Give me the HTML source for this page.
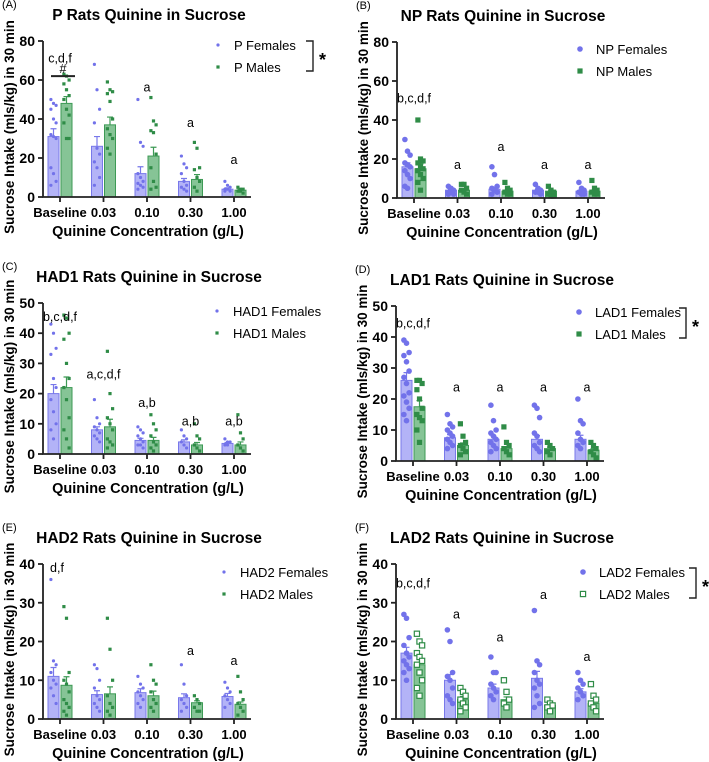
<!DOCTYPE html>
<html><head><meta charset="utf-8">
<style>
html,body{margin:0;padding:0;background:#fff;}
svg{display:block;font-family:"Liberation Sans",Arial,sans-serif;}
</style></head>
<body>
<svg id="fig" width="709" height="762" viewBox="0 0 709 762" xmlns="http://www.w3.org/2000/svg"></svg>
<script>
const categories = ["Baseline","0.03","0.10","0.30","1.00"];

// Panel A
const aFemMean=[31,26,12,8,4], aFemSem=[4,5,3.5,1.5,0.7];
const aMalMean=[48,37,21,9,3.5], aMalSem=[3.5,4,4.5,2.5,0.5];
const aFemPts=[[50,48,47,45,40,38,32,31,30,15,12,8,6],[68,55,45,38,25,22,18,15,10,6],[50,28,26,12,10,8,7,6,5,4],[21,17,15,12,8,6,5,4,3],[8,6,5,4,4,3,3]];
const aMalPts=[[63,62,60,58,55,52,50,45,42,38,30,30],[59,55,54,53,49,40,35,32,30,25,22],[51,39,37,34,33,22,15,8,5,4],[28,25,15,14,10,8,5,3],[5,4,4,3,3,2]];
const aAnnot=["c,d,f","","a","a","a"], aAnnotVal=[69,0,54,36,17];
const aTicks=[0,20,40,60,80];

// Panel B
const bFemMean=[16,4,4.5,4,3.5], bFemSem=[2,0.5,1,0.5,0.5];
const bMalMean=[15,4,3.5,3.5,3.5], bMalSem=[2.5,0.7,0.6,0.5,0.6];
const bFemPts=[[30,24,22,18,17,16,14,12,10,6,5],[6,5,4,3,3,2,2],[16,12,6,5,4,3,2],[7,5,4,3,3,2],[8,5,4,3,2,2]];
const bMalPts=[[40,20,19,18,16,15,14,12,10,8,4],[7,7,5,4,3,2],[8,5,4,3,2,2],[6,4,3,2,1,1],[9,5,4,3,2,2]];
const bAnnot=["b,c,d,f","a","a","a","a"], bAnnotVal=[49,15,24,15,15];
const bTicks=[0,20,40,60,80];

// Panel C
const cFemMean=[20,8,4.5,4,3.5], cFemSem=[3,1,0.7,0.7,0.3];
const cMalMean=[22,9,4.5,3,3], cMalSem=[3.5,2.5,1,0.8,1];
const cFemPts=[[43,40,35,33,25,22,18,14,10,8,5],[18,12,10,9,8,7,6,5,4],[9,8,7,6,5,4,3,3,2],[8,6,5,4,3,2],[5,4,4,3,3]];
const cMalPts=[[46,45,40,38,30,25,22,18,12,8,5,2],[34,20,15,12,10,8,5,4,3,2],[13,10,8,6,4,3,2,1],[10,6,5,3,2,1],[13,7,5,3,2,1]];
const cAnnot=["b,c,d,f","a,c,d,f","a,b","a,b","a,b"], cAnnotVal=[44,25,15.5,9.5,9.5];
const cTicks=[0,10,20,30,40,50];

// Panel D
const dFemMean=[26,7.5,7,7,7], dFemSem=[2.5,1,1,1.2,1.3];
const dMalMean=[17.5,5,4,4,3.5], dMalSem=[2,0.8,0.5,0.5,0.5];
const dFemPts=[[39,38,35,34,32,29,27,25,22,21,19,17,15,13],[15,12,11,10,9,8,7,6,5,4],[18,13,10,9,8,7,6,5,4,3],[18,17,14,9,8,6,5,4,3],[20,13,12,9,7,6,5,4]];
const dMalPts=[[26,26,25,23,20,17,15,14,13,10,6],[12,8,6,5,4,3,2],[11,6,5,4,3,2],[6,5,4,3,2],[6,5,4,3,2,1]];
const dAnnot=["b,c,d,f","a","a","a","a"], dAnnotVal=[43,22.5,22.5,22.5,22.5];
const dTicks=[0,10,20,30,40,50];

// Panel E
const eFemMean=[11,6.3,6.8,5.5,5.8], eFemSem=[2.3,1,1,1,0.8];
const eMalMean=[8.7,6.5,6,4.2,3.8], eMalSem=[2.2,1.8,1.2,0.5,0.6];
const eFemPts=[[36,15,14,12,10,9,8,6,4],[14,13,10,8,6,5,4,3,2],[11,9,8,7,6,5,4,3],[14,9,6,5,4,3,2],[9.5,8,7,6,5,4,3]];
const eMalPts=[[29,26,12,10,9,7,5,4,3,2,1],[26,18,10,6,4,3,2,1],[14,10,9,7,5,4,3,2],[6,5,4,3,2,2],[11,7,5,4,3,2,1]];
const eAnnot=["d,f","","","a","a"], eAnnotVal=[38,0,0,16.5,14];
const eTicks=[0,10,20,30,40];

// Panel F
const fFemMean=[17,10,8,10.5,7], fFemSem=[1.5,1.5,1,1.8,0.8];
const fMalMean=[14,5,5,3.5,4], fMalSem=[1.5,0.8,0.7,0.3,0.6];
const fFemPts=[[27,26,21,19,17,16,15,14,13,12,10],[23,20,12,11,10,8,6,5,4],[16,12,12,9,8,7,6,5],[28,15,14,12,10,9,8,6,4,3],[12,10,9,8,7,6,5]];
const fMalPts=[[22,20,19,17,16,15,14,12,10,8,6],[8,7,6,5,4,3,2],[10,7,5,4,3],[5,4,3.5,3,2],[9,6,5,4,3,2]];
const fAnnot=["b,c,d,f","a","a","a","a"], fAnnotVal=[34,26,20,31,15];
const fTicks=[0,10,20,30,40];

const svg=document.getElementById('fig');
const NS="http://www.w3.org/2000/svg";
function mk(tag,attrs,parent,txt){const e=document.createElementNS(NS,tag);for(const k in attrs)e.setAttribute(k,attrs[k]);if(txt!==undefined)e.textContent=txt;(parent||svg).appendChild(e);return e;}

const FBAR="#b3b3f7",FSTR="#7878ea",FPT="#7272ea";
const MBAR="#86c496",MSTR="#3d9a55",MPT="#2f8c47";

function panel(o){
  const g=mk('g',{});
  
  
  const x0=o.x0,y0=o.y0,yT=o.yT,ymax=o.ticks[o.ticks.length-1];
  const ys=v=>y0-(v/ymax)*(y0-yT);
  const xc=i=>x0+17+i*43.5;
  let t=mk('text',{x:o.x0-41,y:yT-33,'font-size':11},g,'('+o.id+')');
  
  t=mk('text',{x:x0+106,y:yT-21,'font-size':15.5,'font-weight':'bold','text-anchor':'middle'},g,o.title);
  
  for(let i=0;i<5;i++){
    [[o.fm,o.fs,o.fp,-6.5,FBAR,FSTR,FPT,'female'],[o.mm,o.ms,o.mp,6.5,MBAR,MSTR,MPT,'male']].forEach(s=>{
      const cx=xc(i)+s[3],w=11,v=s[0][i],se=s[1][i];
      const b=mk('rect',{x:cx-w/2,y:ys(v),width:w,height:y0-ys(v),fill:s[4],stroke:s[5],'stroke-width':1},g);
      
      
      const eb=mk('path',{d:`M${cx} ${ys(v)}V${ys(v+se)}M${cx-3} ${ys(v+se)}H${cx+3}`,stroke:s[5],'stroke-width':1.2,fill:'none'},g);
      
      
      s[2][i].forEach((p,j)=>{
        const px=cx+((j%3)-1)*2.6,py=ys(p);let m;
        if(s[7]==='female'){m=mk('circle',{cx:px,cy:py,r:o.big?2.8:1.6,fill:s[6]},g);}
        else{const r=o.big?2.6:1.6;m=mk('rect',{x:px-r,y:py-r,width:2*r,height:2*r,fill:o.open?'#fff':s[6],stroke:s[6],'stroke-width':o.open?1.2:0},g);}
        
        
      });
    });
    if(o.ann[i]){const a=mk('text',{x:xc(i)+(i===0&&o.annLeft?-3:0),y:ys(o.annV[i]),'font-size':12.5,'text-anchor':'middle'},g,o.ann[i]);
      }
  }
  const ax=mk('path',{d:`M${x0} ${yT}V${y0}H${x0+208}`,stroke:'#222','stroke-width':1.8,fill:'none'},g);
  
  o.ticks.forEach(v=>{
    mk('line',{x1:x0-5,x2:x0,y1:ys(v),y2:ys(v),stroke:'#222','stroke-width':1.8},g);
    const tl=mk('text',{x:x0-8,y:ys(v)+5,'font-size':14,'font-weight':'bold','text-anchor':'end'},g,v);
    
  });
  for(let i=0;i<5;i++){
    mk('line',{x1:xc(i),x2:xc(i),y1:y0,y2:y0+5,stroke:'#222','stroke-width':1.8},g);
    const tl=mk('text',{x:xc(i),y:y0+20,'font-size':13,'font-weight':'bold','text-anchor':'middle'},g,categories[i]);
    
  }
  t=mk('text',{x:x0+105,y:y0+39,'font-size':14.5,'font-weight':'bold','text-anchor':'middle'},g,'Quinine Concentration (g/L)');
  
  const my=(y0+yT)/2+8;
  t=mk('text',{x:0,y:0,'font-size':13.5,'font-weight':'bold','text-anchor':'middle',transform:`translate(${x0-29},${my}) rotate(-90)`},g,'Sucrose Intake (mls/kg) in 30 min');
  
  const lx=x0+o.lx, ly1=yT+o.ly, ly2=ly1+22;
  const lf=mk('circle',{cx:lx,cy:ly1,r:o.big?2.8:1.6,fill:FPT},g);
  
  const r=o.big?2.6:1.6;
  const lm=mk('rect',{x:lx-r,y:ly2-r,width:2*r,height:2*r,fill:o.open?'#fff':MPT,stroke:MPT,'stroke-width':o.open?1.2:0},g);
  
  t=mk('text',{x:lx+16,y:ly1+5,'font-size':13},g,o.prefix+' Females');
  
  t=mk('text',{x:lx+16,y:ly2+5,'font-size':13},g,o.prefix+' Males');
  
  if(o.bx){
    const bx=x0+o.bx;
    mk('path',{d:`M${bx-7} ${ly1-4}H${bx}V${ly2+4}H${bx-7}`,stroke:'#222','stroke-width':1.4,fill:'none'},g);
    t=mk('text',{x:bx+6,y:(ly1+ly2)/2+10,'font-size':18,'font-weight':'bold'},g,'*');
    
  }
  if(o.hash){
    mk('line',{x1:xc(0)-9,x2:xc(0)+15,y1:ys(62),y2:ys(62),stroke:'#222','stroke-width':2},g);
    t=mk('text',{x:xc(0)+3,y:ys(63.5),'font-size':12.5,'text-anchor':'middle'},g,'#');
    
  }
}
panel({id:'A',title:'P Rats Quinine in Sucrose',prefix:'P',x0:43,y0:197,yT:41,ticks:aTicks,fm:aFemMean,fs:aFemSem,mm:aMalMean,ms:aMalSem,fp:aFemPts,mp:aMalPts,ann:aAnnot,annV:aAnnotVal,lx:175,ly:4,bx:270,hash:true});
panel({id:'B',title:'NP Rats Quinine in Sucrose',prefix:'NP',x0:397,y0:198,yT:42,ticks:bTicks,fm:bFemMean,fs:bFemSem,mm:bMalMean,ms:bMalSem,fp:bFemPts,mp:bMalPts,ann:bAnnot,annV:bAnnotVal,lx:183,ly:7,big:true});
panel({id:'C',title:'HAD1 Rats Quinine in Sucrose',prefix:'HAD1',x0:43,y0:454,yT:303,ticks:cTicks,fm:cFemMean,fs:cFemSem,mm:cMalMean,ms:cMalSem,fp:cFemPts,mp:cMalPts,ann:cAnnot,annV:cAnnotVal,lx:174,ly:8});
panel({id:'D',title:'LAD1 Rats Quinine in Sucrose',prefix:'LAD1',x0:396,y0:461,yT:306,ticks:dTicks,fm:dFemMean,fs:dFemSem,mm:dMalMean,ms:dMalSem,fp:dFemPts,mp:dMalPts,ann:dAnnot,annV:dAnnotVal,lx:183,ly:6,big:true,bx:290});
panel({id:'E',title:'HAD2 Rats Quinine in Sucrose',prefix:'HAD2',x0:43,y0:719,yT:564,ticks:eTicks,fm:eFemMean,fs:eFemSem,mm:eMalMean,ms:eMalSem,fp:eFemPts,mp:eMalPts,ann:eAnnot,annV:eAnnotVal,lx:181,ly:8,annLeft:true});
panel({id:'F',title:'LAD2 Rats Quinine in Sucrose',prefix:'LAD2',x0:396,y0:719,yT:564,ticks:fTicks,fm:fFemMean,fs:fFemSem,mm:fMalMean,ms:fMalSem,fp:fFemPts,mp:fMalPts,ann:fAnnot,annV:fAnnotVal,lx:187,ly:8,big:true,open:true,bx:300});
</script>
</body></html>
